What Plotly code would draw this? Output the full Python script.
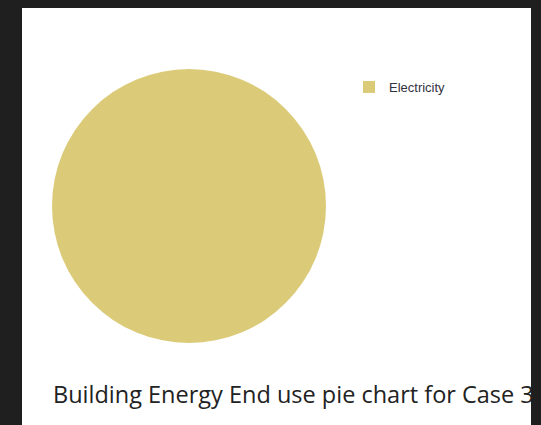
import plotly.graph_objects as go

labels = ["Electricity"]
values = [100]
colors = ["#dbcb79"]
title_text = "Building Energy End use pie chart for Case 3"

W, H = 541, 425

fig = go.Figure()
fig.add_trace(go.Pie(
    labels=labels,
    values=values,
    marker=dict(colors=colors, line=dict(width=0)),
    textinfo="none",
    hoverinfo="label+percent",
    sort=False,
    domain=dict(x=[52 / W, 326 / W], y=[(H - 343) / H, (H - 69) / H]),
    showlegend=True,
))

fig.update_layout(
    width=W, height=H,
    margin=dict(l=0, r=0, t=0, b=0),
    paper_bgcolor="#1f1f20",
    plot_bgcolor="#1f1f20",
    shapes=[dict(type="rect", xref="paper", yref="paper",
                 x0=22 / W, x1=531 / W, y0=0, y1=(H - 8) / H,
                 fillcolor="white", line=dict(width=0), layer="below")],
    legend=dict(x=349 / W, y=(H - 72) / H, xanchor="left", yanchor="top",
                font=dict(family="Liberation Sans, Arial", size=13, color="#333340"),
                bgcolor="rgba(0,0,0,0)", itemwidth=30),
    annotations=[dict(text=title_text, xref="paper", yref="paper",
                      x=51 / W, y=(H - 394) / H, xanchor="left", yanchor="middle",
                      showarrow=False,
                      font=dict(family="Open Sans", size=23.5, color="#222222"))],
)

fig.write_html("out.html")
